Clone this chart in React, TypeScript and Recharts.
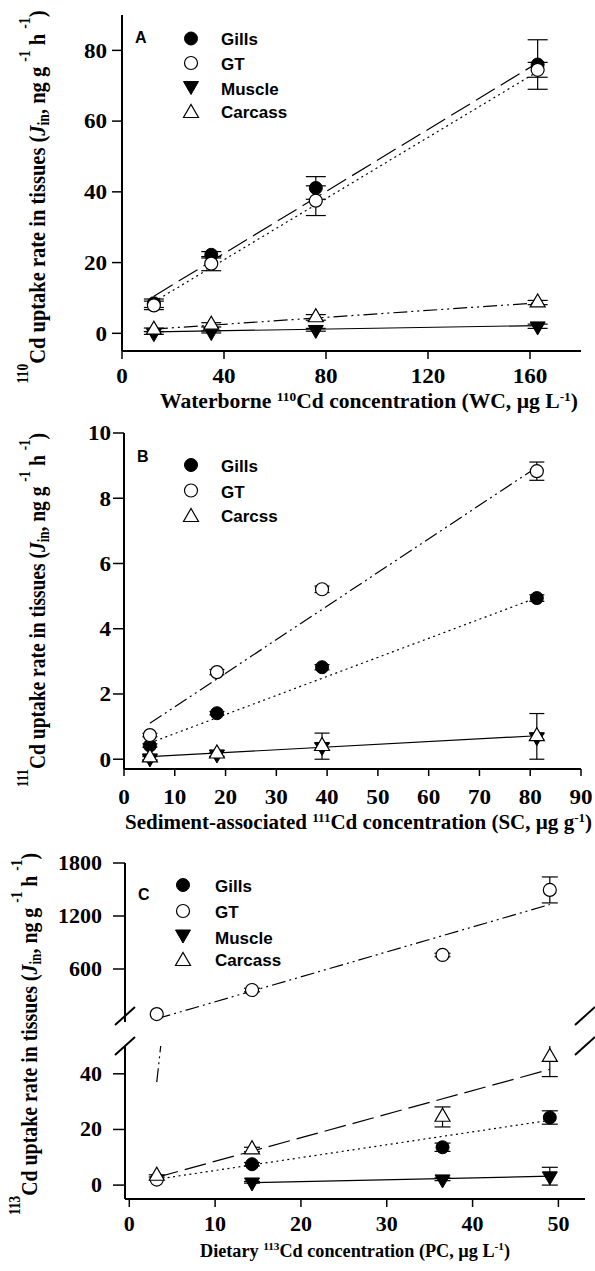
import React from 'react';
import { ComposedChart, XAxis, YAxis, Scatter, Line, ErrorBar, Customized } from 'recharts';

const SERIF = '"Liberation Serif", "Times New Roman", Times, serif';
const SANS = '"Liberation Sans", Arial, Helvetica, sans-serif';

// ---------- Panel A : waterborne 110Cd ----------
const wcA = [12.5, 35, 76, 163];
const gillsA = [8.5, 22.2, 41.1, 76.0];
const gillsAErr = [1.2, 0.9, 3.2, 7.0];
const gtA = [7.9, 19.7, 37.5, 74.5];
const gtAErr = [1.2, 2.0, 4.2, 2.1];
const muscleA = [0.1, 0.4, 1.0, 2.0];
const muscleAErr = [0.4, 0.3, 0.4, 0.6];
const carcassA = [1.0, 2.4, 4.5, 8.7];
const carcassAErr = [0.5, 0.6, 0.8, 0.6];
const fitGillsA = [{ x: 12.5, y: 10.5 }, { x: 163, y: 76.5 }];
const fitGtA = [{ x: 12.5, y: 8.9 }, { x: 163, y: 74.0 }];
const fitMuscleA = [{ x: 12.5, y: 0.4 }, { x: 163, y: 2.2 }];
const fitCarcassA = [{ x: 12.5, y: 1.2 }, { x: 163, y: 8.6 }];
const ticksAx = [0, 40, 80, 120, 160];
const ticksAy = [0, 20, 40, 60, 80];

// ---------- Panel B : sediment-associated 111Cd ----------
const scB = [5.1, 18.3, 39, 81.3];
const gillsB = [0.42, 1.41, 2.82, 4.94];
const gillsBErr = [0.05, 0.05, 0.08, 0.1];
const gtB = [0.74, 2.67, 5.21, 8.83];
const gtBErr = [0.05, 0.08, 0.1, 0.28];
const muscleB = [0.03, 0.15, 0.38, 0.68];
const muscleBErr = [0.05, 0.06, 0.1, 0.1];
const carcassB = [0.05, 0.17, 0.4, 0.7];
const carcassBErr = [0.08, 0.1, 0.4, 0.7];
const fitGillsB = [{ x: 5.1, y: 0.5 }, { x: 81.3, y: 4.95 }];
const fitGtB = [{ x: 5.1, y: 1.1 }, { x: 81.3, y: 8.95 }];
const fitCarcassB = [{ x: 5.1, y: 0.08 }, { x: 81.3, y: 0.72 }];
const ticksBx = [0, 10, 20, 30, 40, 50, 60, 70, 80, 90];
const ticksBy = [0, 2, 4, 6, 8, 10];

// ---------- Panel C : dietary 113Cd (broken y axis) ----------
const pcC = [3.2, 14.3, 36.5, 49];
const gtC = [90, 362, 759, 1495];
const gtCErr = [0, 20, 20, 147];
const gtLowC = [2.0]; // open circle drawn in the lower segment at the first PC level
const gillsC = [7.5, 13.6, 24.3]; // PC levels 2..4
const gillsCErr = [0.6, 1.5, 2.4];
const muscleC = [1.0, 2.1, 3.2]; // PC levels 2..4
const muscleCErr = [0.3, 0.5, 3.2];
const carcassC = [3.3, 12.8, 24.5, 46];
const carcassCErr = [0.4, 0.8, 3.6, 7];
const fitGtC = [{ x: 3.2, y: 37 }, { x: 49, y: 1330 }];
const fitGillsC = [{ x: 3.2, y: 2.1 }, { x: 49, y: 23.3 }];
const fitMuscleC = [{ x: 14.3, y: 0.9 }, { x: 49, y: 3.2 }];
const fitCarcassC = [{ x: 3.2, y: 2.8 }, { x: 49, y: 41.6 }];
const ticksCx = [0, 10, 20, 30, 40, 50];
const ticksCyHigh = [600, 1200, 1800];
const ticksCyLow = [0, 20, 40];

const pts = (xs: number[], ys: number[], es?: number[]) =>
  ys.map((y, i) => ({ x: xs[i], y, e: es ? es[i] : 0 }));

const DASH_LONG = '22 7';
const DOTTED = '2 3.5';
const DASH_DOT_DOT = '14 4 2 4 2 4';

type Kind = 'fillCircle' | 'openCircle' | 'fillDown' | 'openUp';

// triangles sit on their centroid, like in the original plotting program
function Sym({ kind, cx, cy, box = false }: { kind: Kind; cx: number; cy: number; box?: boolean }) {
  const r = 6.5;
  const h = 13;
  const w = 7.5;
  if (cx == null || cy == null) return null;
  if (kind === 'fillCircle') return <circle cx={cx} cy={cy} r={r} fill="#000" stroke="#000" strokeWidth={1} />;
  if (kind === 'openCircle') return <circle cx={cx} cy={cy} r={r} fill="#fff" stroke="#000" strokeWidth={1.2} />;
  if (kind === 'fillDown') {
    const c = box ? cy - h / 6 : cy;
    return (
      <polygon
        points={`${cx - w},${c - h / 3} ${cx + w},${c - h / 3} ${cx},${c + (2 * h) / 3}`}
        fill="#000"
        stroke="#000"
        strokeWidth={1}
      />
    );
  }
  const c = box ? cy + h / 6 : cy;
  return (
    <polygon
      points={`${cx - w},${c + h / 3} ${cx + w},${c + h / 3} ${cx},${c - (2 * h) / 3}`}
      fill="#fff"
      stroke="#000"
      strokeWidth={1.2}
    />
  );
}

const shapeOf = (kind: Kind) => (p: any) => <Sym kind={kind} cx={p.cx} cy={p.cy} />;

const serifBold = { fontFamily: SERIF, fontWeight: 700 };
const sansBold = { fontFamily: SANS, fontWeight: 700 };

function TickLabel(props: any) {
  const { x, y, payload, fsz, sxf, anc } = props;
  return (
    <g transform={`translate(${x},${y}) scale(${sxf},1)`}>
      <text x={0} y={0} dy={anc === 'middle' ? '0.71em' : '0.35em'} textAnchor={anc} fontSize={fsz} fill="#000" style={serifBold}>
        {payload.value}
      </text>
    </g>
  );
}

function XTitle({ x, y, w, fs, pre, iso, mid }: { x: number; y: number; w: number; fs: number; pre: string; iso: string; mid: string }) {
  const s = fs * 0.62;
  return (
    <text x={x} y={y} textLength={w} lengthAdjust="spacingAndGlyphs" fontSize={fs} fill="#000" style={serifBold}>
      {pre}
      <tspan fontSize={s} dy={-7}>{iso}</tspan>
      <tspan dy={7}>{mid}</tspan>
      <tspan fontSize={s} dy={-7}>-1</tspan>
      <tspan dy={7}>)</tspan>
    </text>
  );
}

function YTitle({ cx, cy, w, fs, iso }: { cx: number; cy: number; w: number; fs: number; iso: string }) {
  const s = 14;
  return (
    <g transform={`translate(${cx},${cy}) scale(1.12,1) rotate(-90)`}>
      <text x={0} y={0} textAnchor="middle" textLength={w} lengthAdjust="spacingAndGlyphs" fontSize={fs} fill="#000" style={serifBold}>
        <tspan fontSize={s} dy={-15}>{iso}</tspan>
        <tspan dy={15}>Cd uptake rate in tissues (</tspan>
        <tspan fontStyle="italic">J</tspan>
        <tspan fontSize={s} dy={4}>in</tspan>
        <tspan dy={-4}>, ng g </tspan>
        <tspan fontSize={s} dy={-13}>-1</tspan>
        <tspan dy={13}> h </tspan>
        <tspan fontSize={s} dy={-13}>-1</tspan>
        <tspan dy={13}>)</tspan>
      </text>
    </g>
  );
}

type Row = { kind: Kind; label: string; y: number };
function LegendBlock({ letter, lx, ly, mx, tx, rows, dy }: { letter: string; lx: number; ly: number; mx: number; tx: number; rows: Row[]; dy: number }) {
  return (
    <g>
      <text x={lx} y={ly} fontSize={16} fill="#000" style={sansBold}>{letter}</text>
      {rows.map((r) => (
        <g key={r.label}>
          <Sym kind={r.kind} cx={mx} cy={r.y} box />
          <text x={tx} y={r.y + dy} fontSize={17} fill="#000" style={sansBold}>{r.label}</text>
        </g>
      ))}
    </g>
  );
}

function BreakMarks() {
  const seg = (x: number, y: number, k: string) => (
    <line key={k} x1={x - 10} y1={y + 9} x2={x + 10} y2={y - 9} stroke="#000" strokeWidth={2} />
  );
  return (
    <g>
      {seg(125, 176, 'l1')}
      {seg(125, 206, 'l2')}
      {seg(585, 176, 'r1')}
      {seg(585, 206, 'r2')}
    </g>
  );
}

type Fit = { data: { x: number; y: number }[]; dash?: string };
type Series = { data: { x: number; y: number; e: number }[]; kind: Kind };

type PanelProps = {
  height: number;
  margin: { top: number; right: number; bottom: number; left: number };
  xDomain: [number, number];
  yDomain: [number, number];
  xTicks: number[];
  yTicks: number[];
  hideX?: boolean;
  frameTop?: boolean;
  fs: number;
  xTickSize: number;
  xTickMargin: number;
  yTickSize: number;
  yTickMargin: number;
  errW: number;
  fits: Fit[];
  series: Series[];
  children?: React.ReactNode;
};

const frame = { stroke: '#000', strokeWidth: 2 };
const tickLn = { stroke: '#000', strokeWidth: 1.5 };

function Panel(p: PanelProps) {
  return (
    <ComposedChart width={595} height={p.height} margin={p.margin}>
      <XAxis
        dataKey="x"
        type="number"
        domain={p.xDomain}
        ticks={p.xTicks}
        interval={0}
        allowDataOverflow
        hide={p.hideX}
        height={40}
        tickSize={p.xTickSize}
        tickMargin={p.xTickMargin}
        axisLine={frame}
        tickLine={tickLn}
        tick={<TickLabel fsz={p.fs} sxf={1.1} anc="middle" />}
      />
      {p.frameTop && (
        <XAxis xAxisId="top" orientation="top" type="number" domain={p.xDomain} allowDataOverflow height={0} tick={false} tickLine={false} axisLine={frame} />
      )}
      <YAxis
        dataKey="y"
        type="number"
        domain={p.yDomain}
        ticks={p.yTicks}
        interval={0}
        allowDataOverflow
        width={60}
        tickSize={p.yTickSize}
        tickMargin={p.yTickMargin}
        axisLine={frame}
        tickLine={tickLn}
        tick={<TickLabel fsz={p.fs} sxf={1.1} anc="end" />}
      />
      <YAxis yAxisId="right" orientation="right" type="number" domain={p.yDomain} allowDataOverflow width={0} tick={false} tickLine={false} axisLine={frame} />
      {p.fits.map((f, i) => (
        <Line
          key={'fit' + i}
          data={f.data}
          dataKey="y"
          type="linear"
          stroke="#000"
          strokeWidth={1.2}
          strokeDasharray={f.dash}
          dot={false}
          activeDot={false}
          isAnimationActive={false}
        />
      ))}
      {p.series.map((s, i) => (
        <Scatter key={'ser' + i} data={s.data} shape={shapeOf(s.kind)} isAnimationActive={false}>
          <ErrorBar dataKey="e" direction="y" width={p.errW} stroke="#000" strokeWidth={1.2} isAnimationActive={false} />
        </Scatter>
      ))}
      {p.children}
    </ComposedChart>
  );
}

export default function App() {
  return (
    <div style={{ position: 'absolute', left: 0, top: 0, width: 595, height: 1271, background: '#fff', overflow: 'hidden' }}>
      {/* A */}
      <div style={{ position: 'absolute', left: 0, top: 0 }}>
        <Panel
          height={415}
          margin={{ top: 15, right: 14, bottom: 24, left: 62 }}
          xDomain={[0, 180]}
          yDomain={[-5, 90]}
          xTicks={ticksAx}
          yTicks={ticksAy}
          frameTop
          fs={21}
          xTickSize={8}
          xTickMargin={9}
          yTickSize={10}
          yTickMargin={5}
          errW={10}
          fits={[
            { data: fitGillsA, dash: DASH_LONG },
            { data: fitGtA, dash: DOTTED },
            { data: fitMuscleA },
            { data: fitCarcassA, dash: DASH_DOT_DOT },
          ]}
          series={[
            { data: pts(wcA, gillsA, gillsAErr), kind: 'fillCircle' },
            { data: pts(wcA, gtA, gtAErr), kind: 'openCircle' },
            { data: pts(wcA, muscleA, muscleAErr), kind: 'fillDown' },
            { data: pts(wcA, carcassA, carcassAErr), kind: 'openUp' },
          ]}
        >
          <Customized
            component={
              <g>
                <LegendBlock
                  letter="A"
                  lx={135}
                  ly={43}
                  mx={191}
                  tx={221}
                  dy={6.5}
                  rows={[
                    { kind: 'fillCircle', label: 'Gills', y: 38.5 },
                    { kind: 'openCircle', label: 'GT', y: 63 },
                    { kind: 'fillDown', label: 'Muscle', y: 88 },
                    { kind: 'openUp', label: 'Carcass', y: 111 },
                  ]}
                />
                <YTitle cx={45} cy={197} w={373} fs={21} iso="110" />
                <XTitle x={160} y={408} w={418} fs={21} pre="Waterborne " iso="110" mid="Cd concentration (WC, µg L" />
              </g>
            }
          />
        </Panel>
      </div>

      {/* B */}
      <div style={{ position: 'absolute', left: 0, top: 415 }}>
        <Panel
          height={425}
          margin={{ top: 18, right: 14, bottom: 31, left: 64 }}
          xDomain={[0, 90]}
          yDomain={[-0.3, 10]}
          xTicks={ticksBx}
          yTicks={ticksBy}
          frameTop
          fs={21}
          xTickSize={7}
          xTickMargin={13}
          yTickSize={11}
          yTickMargin={2}
          errW={7.5}
          fits={[
            { data: fitGillsB, dash: DOTTED },
            { data: fitGtB, dash: DASH_DOT_DOT },
            { data: fitCarcassB },
          ]}
          series={[
            { data: pts(scB, gillsB, gillsBErr), kind: 'fillCircle' },
            { data: pts(scB, gtB, gtBErr), kind: 'openCircle' },
            { data: pts(scB, muscleB, muscleBErr), kind: 'fillDown' },
            { data: pts(scB, carcassB, carcassBErr), kind: 'openUp' },
          ]}
        >
          <Customized
            component={
              <g>
                <LegendBlock
                  letter="B"
                  lx={137}
                  ly={47}
                  mx={191}
                  tx={221}
                  dy={7}
                  rows={[
                    { kind: 'fillCircle', label: 'Gills', y: 50 },
                    { kind: 'openCircle', label: 'GT', y: 75.5 },
                    { kind: 'openUp', label: 'Carcss', y: 100 },
                  ]}
                />
                <YTitle cx={45} cy={195} w={354} fs={21} iso="111" />
                <XTitle x={125} y={414} w={467} fs={21} pre="Sediment-associated " iso="111" mid="Cd concentration (SC, µg g" />
              </g>
            }
          />
        </Panel>
      </div>

      {/* C, lower segment: clipped at its top edge so nothing spills into the axis break */}
      <div style={{ position: 'absolute', left: 0, top: 840, clipPath: 'inset(206px 0px 0px 0px)' }}>
        <Panel
          height={431}
          margin={{ top: 206, right: 10, bottom: 32, left: 65 }}
          xDomain={[-0.5, 53.1]}
          yDomain={[-5, 50]}
          xTicks={ticksCx}
          yTicks={ticksCyLow}
          fs={20}
          xTickSize={8}
          xTickMargin={10}
          yTickSize={12}
          yTickMargin={11}
          errW={8}
          fits={[
            { data: fitGtC, dash: DASH_DOT_DOT },
            { data: fitGillsC, dash: DOTTED },
            { data: fitMuscleC },
            { data: fitCarcassC, dash: DASH_LONG },
          ]}
          series={[
            { data: pts(pcC.slice(1), gillsC, gillsCErr), kind: 'fillCircle' },
            { data: pts(pcC, gtLowC), kind: 'openCircle' },
            { data: pts(pcC.slice(1), muscleC, muscleCErr), kind: 'fillDown' },
            { data: pts(pcC, carcassC, carcassCErr), kind: 'openUp' },
          ]}
        >
          <Customized
            component={<XTitle x={200} y={417} w={310} fs={18} pre="Dietary " iso="113" mid="Cd concentration (PC, µg L" />}
          />
        </Panel>
      </div>

      {/* C, upper segment (also carries legend, y title and break marks) */}
      <div style={{ position: 'absolute', left: 0, top: 840 }}>
        <Panel
          height={431}
          margin={{ top: 23, right: 10, bottom: 249, left: 65 }}
          xDomain={[-0.5, 53.1]}
          yDomain={[0, 1800]}
          xTicks={ticksCx}
          yTicks={ticksCyHigh}
          hideX
          frameTop
          fs={20}
          xTickSize={8}
          xTickMargin={13}
          yTickSize={12}
          yTickMargin={11}
          errW={8}
          fits={[{ data: fitGtC, dash: DASH_DOT_DOT }]}
          series={[{ data: pts(pcC, gtC, gtCErr), kind: 'openCircle' }]}
        >
          <Customized
            component={
              <g>
                <LegendBlock
                  letter="C"
                  lx={138}
                  ly={60}
                  mx={183}
                  tx={215}
                  dy={7}
                  rows={[
                    { kind: 'fillCircle', label: 'Gills', y: 45 },
                    { kind: 'openCircle', label: 'GT', y: 71 },
                    { kind: 'fillDown', label: 'Muscle', y: 96.5 },
                    { kind: 'openUp', label: 'Carcass', y: 119 },
                  ]}
                />
                <BreakMarks />
                <YTitle cx={37} cy={194} w={362} fs={21} iso="113" />
              </g>
            }
          />
        </Panel>
      </div>
    </div>
  );
}
